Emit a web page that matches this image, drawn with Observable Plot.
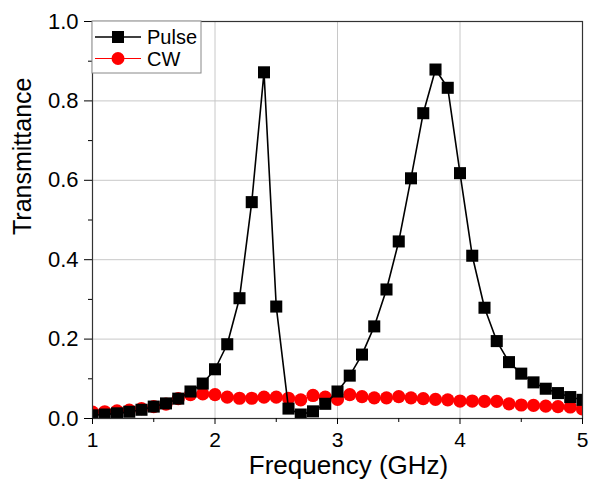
<!DOCTYPE html>
<html>
<head>
<meta charset="utf-8">
<script src="https://cdn.jsdelivr.net/npm/d3@7"></script>
<script src="https://cdn.jsdelivr.net/npm/@observablehq/plot@0.6"></script>
<style>
  html, body { margin: 0; padding: 0; background: #fff; }
  #chart { position: relative; width: 589px; height: 487px; }
  svg { font-family: "Liberation Sans", Arial, sans-serif; }
</style>
</head>
<body>
<div id="chart"></div>
<script>
const frequency = [1.0,1.1,1.2,1.3,1.4,1.5,1.6,1.7,1.8,1.9,2.0,2.1,2.2,2.3,2.4,2.5,2.6,2.7,2.8,2.9,3.0,3.1,3.2,3.3,3.4,3.5,3.6,3.7,3.8,3.9,4.0,4.1,4.2,4.3,4.4,4.5,4.6,4.7,4.8,4.9,5.0];
const pulse = [0.008,0.010,0.013,0.017,0.022,0.030,0.038,0.050,0.068,0.088,0.124,0.187,0.303,0.545,0.872,0.282,0.025,0.010,0.018,0.037,0.068,0.108,0.161,0.232,0.325,0.446,0.605,0.769,0.879,0.833,0.618,0.410,0.279,0.195,0.142,0.113,0.091,0.075,0.064,0.054,0.047];
const cw = [0.016,0.017,0.019,0.021,0.025,0.030,0.036,0.050,0.060,0.062,0.060,0.054,0.051,0.051,0.054,0.054,0.051,0.047,0.058,0.054,0.048,0.060,0.055,0.052,0.052,0.055,0.052,0.050,0.048,0.047,0.044,0.044,0.043,0.043,0.037,0.034,0.033,0.031,0.030,0.029,0.024];
const seriesNames = ["Pulse", "CW"];
const seriesColors = ["#000000", "#ff0000"];
const xMajorTicks = [1, 2, 3, 4, 5];
const xMinorTicks = [1.5, 2.5, 3.5, 4.5];
const yMajorTicks = [0, 0.2, 0.4, 0.6, 0.8, 1.0];
const yMinorTicks = [0.1, 0.3, 0.5, 0.7, 0.9];
const xTitle = "Frequency (GHz)";
const yTitle = "Transmittance";

const pulseData = frequency.map((f, i) => ({f, v: pulse[i]}));
const cwData = frequency.map((f, i) => ({f, v: cw[i]}));

const plot = Plot.plot({
  width: 589,
  height: 487,
  marginLeft: 92,
  marginRight: 7,
  marginTop: 21,
  marginBottom: 69,
  style: {fontFamily: '"Liberation Sans", Arial, sans-serif', background: "#fff", color: "#000"},
  x: {domain: [1, 5]},
  y: {domain: [0, 1]},
  marks: [
    Plot.gridX(xMajorTicks.slice(1, -1), {stroke: "#c8c8c8", strokeOpacity: 1, strokeWidth: 1}),
    Plot.gridY(yMajorTicks.slice(1, -1), {stroke: "#c8c8c8", strokeOpacity: 1, strokeWidth: 1}),
    Plot.line(cwData, {x: "f", y: "v", stroke: seriesColors[1], strokeWidth: 1, clip: true}),
    Plot.dot(cwData, {x: "f", y: "v", r: 6.6, fill: seriesColors[1], stroke: "none", clip: true}),
    Plot.line(pulseData, {x: "f", y: "v", stroke: seriesColors[0], strokeWidth: 1.6, clip: true}),
    Plot.dot(pulseData, {x: "f", y: "v", symbol: "square", r: 6.8, fill: seriesColors[0], stroke: "none", clip: true}),
    Plot.frame({stroke: "#333", strokeWidth: 1.2}),
    Plot.axisX({ticks: xMajorTicks, tickSize: 6, tickPadding: 8, fontSize: 21, label: null, tickFormat: d3.format("d")}),
    Plot.axisX({ticks: xMinorTicks, tickSize: 4, text: null, label: null}),
    Plot.axisY({ticks: yMajorTicks, tickSize: 8, tickPadding: 6, fontSize: 22, label: null, tickFormat: d3.format(".1f")}),
    Plot.axisY({ticks: yMinorTicks, tickSize: 4, text: null, label: null}),
    Plot.text([xTitle], {frameAnchor: "bottom", dy: 55, dx: 11, fontSize: 26, text: d => d}),
    Plot.text([yTitle], {frameAnchor: "left", dx: -70, dy: 15, rotate: -90, fontSize: 25, text: d => d})
  ]
});
document.getElementById("chart").appendChild(plot);

// Legend box inside top-left of plot area
const svg = d3.select(plot);
const lg = svg.append("g").attr("transform", "translate(92,21)").attr("text-anchor", "start");
lg.append("rect").attr("x", 0).attr("y", 0).attr("width", 109).attr("height", 52)
  .attr("fill", "#fff").attr("stroke", "#888").attr("stroke-width", 1);
seriesNames.forEach((name, i) => {
  const cy = 16 + i * 21.5;
  lg.append("line").attr("x1", 3).attr("x2", 49).attr("y1", cy).attr("y2", cy)
    .attr("stroke", seriesColors[i]).attr("stroke-width", i === 0 ? 1.6 : 1);
  if (i === 0) {
    lg.append("rect").attr("x", 26 - 6).attr("y", cy - 6).attr("width", 12).attr("height", 12).attr("fill", seriesColors[i]);
  } else {
    lg.append("circle").attr("cx", 26).attr("cy", cy).attr("r", 6.5).attr("fill", seriesColors[i]);
  }
  lg.append("text").attr("x", 55).attr("y", cy).attr("dy", "0.35em").attr("text-anchor", "start")
    .attr("font-size", 20).attr("fill", "#000").text(name);
});
</script>
</body>
</html>
